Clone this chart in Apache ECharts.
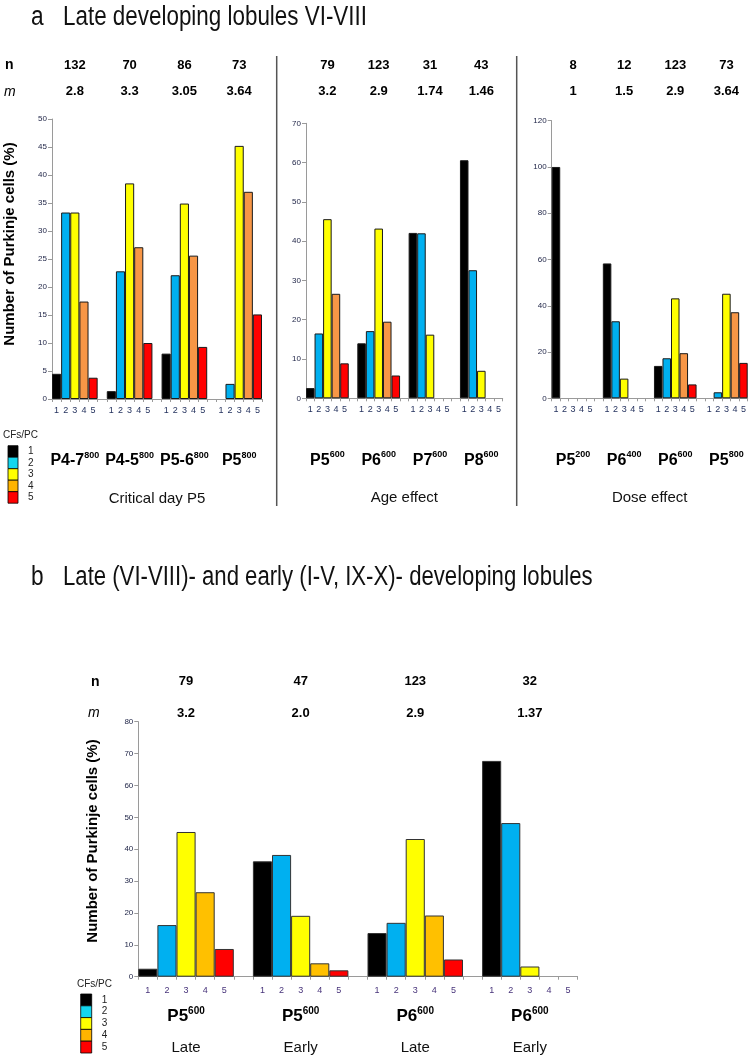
<!DOCTYPE html>
<html>
<head>
<meta charset="utf-8">
<script src="https://cdn.jsdelivr.net/npm/echarts@6/dist/echarts.min.js"></script>
<style>
  html, body { margin: 0; padding: 0; background: #fff; }
  #chart { width: 750px; height: 1058px; }
</style>
</head>
<body>
<div id="chart"></div>
<script>
// ---------------- DATA ----------------
const cfLabels = ['1', '2', '3', '4', '5'];

// Panel a – Critical day P5
const critGroups = ['P4-7', 'P4-5', 'P5-6', 'P5'];
const critDose = ['800', '800', '800', '800'];
const critN = ['132', '70', '86', '73'];
const critM = ['2.8', '3.3', '3.05', '3.64'];
const critValues = [
  [4.5, 33.3, 33.3, 17.4, 3.8],
  [1.4, 22.8, 38.5, 27.1, 10.0],
  [8.1, 22.1, 34.9, 25.6, 9.3],
  [0, 2.7, 45.2, 37.0, 15.1]
];

// Panel a – Age effect
const ageGroups = ['P5', 'P6', 'P7', 'P8'];
const ageDose = ['600', '600', '600', '600'];
const ageN = ['79', '123', '31', '43'];
const ageM = ['3.2', '2.9', '1.74', '1.46'];
const ageValues = [
  [2.6, 16.5, 45.6, 26.6, 8.9],
  [14.0, 17.1, 43.2, 19.5, 5.8],
  [42.1, 42.0, 16.2, 0, 0],
  [60.6, 32.6, 7.0, 0, 0]
];

// Panel a – Dose effect
const doseGroups = ['P5', 'P6', 'P6', 'P5'];
const doseDose = ['200', '400', '600', '800'];
const doseN = ['8', '12', '123', '73'];
const doseM = ['1', '1.5', '2.9', '3.64'];
const doseValues = [
  [100, 0, 0, 0, 0],
  [58.3, 33.3, 8.5, 0, 0],
  [14.0, 17.3, 43.2, 19.5, 6.0],
  [0, 2.6, 45.2, 37.2, 15.3]
];

// Panel b – Late vs early
const lobGroups = ['P5', 'P5', 'P6', 'P6'];
const lobDose = ['600', '600', '600', '600'];
const lobRegion = ['Late', 'Early', 'Late', 'Early'];
const lobN = ['79', '47', '123', '32'];
const lobM = ['3.2', '2.0', '2.9', '1.37'];
const lobValues = [
  [2.5, 16.2, 45.4, 26.5, 8.7],
  [36.2, 38.2, 19.1, 4.2, 2.0],
  [13.7, 16.9, 43.2, 19.2, 5.4],
  [67.7, 48.2, 3.2, 0, 0]
];

const yTicksA1 = [0, 50, 5];
const yTicksA2 = [0, 70, 10];
const yTicksA3 = [0, 120, 20];
const yTicksB = [0, 80, 10];

// ---------------- STYLE ----------------
const colorsA = ['#000000', '#00B0F0', '#FFFF00', '#F79646', '#FF0000'];
const colorsB = ['#000000', '#00B0F0', '#FFFF00', '#FFC000', '#FF0000'];
const legendColors = ['#000000', '#14D6EE', '#FFFF00', '#FFB400', '#FF0000'];
const FONT = "'Liberation Sans', Arial, sans-serif";

function slots(nGroups) {
  const cats = [];
  for (let g = 0; g < nGroups; g++) {
    cfLabels.forEach(l => cats.push(l));
    if (g < nGroups - 1) cats.push('');
  }
  return cats;
}
function barData(values, colors) {
  const out = [];
  values.forEach((grp, g) => {
    grp.forEach((v, k) => out.push({ value: v === 0 ? null : v, itemStyle: { color: colors[k] } }));
    if (g < values.length - 1) out.push({ value: null });
  });
  return out;
}

const panels = [
  { grid: { left: 52, top: 119, width: 210, height: 280 }, groups: critGroups, dose: critDose, n: critN, m: critM, values: critValues, y: yTicksA1, colors: colorsA, name: 'Critical day P5', big: false },
  { grid: { left: 306, top: 123.3, width: 196.7, height: 275 }, groups: ageGroups, dose: ageDose, n: ageN, m: ageM, values: ageValues, y: yTicksA2, colors: colorsA, name: 'Age effect', big: false },
  { grid: { left: 551.7, top: 120.7, width: 196, height: 277.6 }, groups: doseGroups, dose: doseDose, n: doseN, m: doseM, values: doseValues, y: yTicksA3, colors: colorsA, name: 'Dose effect', big: false },
  { grid: { left: 138.3, top: 721.7, width: 439.3, height: 255 }, groups: lobGroups, dose: lobDose, n: lobN, m: lobM, values: lobValues, y: yTicksB, colors: colorsB, name: '', region: lobRegion, big: true }
];

const grids = [], xAxes = [], yAxes = [], series = [];
panels.forEach((p, i) => {
  grids.push(Object.assign({ containLabel: false }, p.grid));
  const cats = slots(p.groups.length);
  const mainIdx = xAxes.length;
  // main category axis (1..5)
  xAxes.push({
    type: 'category', gridIndex: i, position: 'bottom', data: cats,
    axisLine: { onZero: false, lineStyle: { color: '#9a9a9a', width: 1 } },
    axisTick: { show: true, interval: 0, length: 3, lineStyle: { color: '#9a9a9a' } },
    axisLabel: { interval: 0, fontSize: 9, color: p.big ? '#47337a' : '#1f2d5a', margin: p.big ? 9 : 7, fontFamily: FONT },
    name: p.name, nameLocation: 'middle', nameGap: 92,
    nameTextStyle: { fontSize: 15, color: '#111', fontFamily: FONT }
  });
  // group label axis
  xAxes.push({
    type: 'category', gridIndex: i, position: 'bottom', data: cats,
    axisLine: { show: false }, axisTick: { show: false },
    axisLabel: {
      interval: 0, margin: p.big ? 30 : 52,
      formatter: (v, idx) => {
        if (idx % 6 !== 2) return '';
        const g = Math.floor(idx / 6);
        let s = '{b|' + p.groups[g] + '}{s|' + p.dose[g] + '}';
        if (p.region) s += '\n{r|' + p.region[g] + '}';
        return s;
      },
      rich: {
        b: { fontSize: p.big ? 17 : 16, fontWeight: 'bold', color: '#000', lineHeight: 20, fontFamily: FONT },
        s: { fontSize: p.big ? 10 : 9, fontWeight: 'bold', color: '#000', lineHeight: 11, verticalAlign: 'top', fontFamily: FONT },
        r: { fontSize: 15, color: '#111', lineHeight: 42, fontFamily: FONT }
      }
    }
  });
  // n / m axis at top
  const lh = p.big ? 31.6 : 26.7;
  const topLine = p.big ? 665.9 : 51.65;
  xAxes.push({
    type: 'category', gridIndex: i, position: 'top', data: cats,
    axisLine: { show: false }, axisTick: { show: false },
    axisLabel: {
      interval: 0, verticalAlign: 'top', margin: p.grid.top - topLine,
      formatter: (v, idx) => {
        if (idx % 6 !== 2) return '';
        const g = Math.floor(idx / 6);
        return '{v|' + p.n[g] + '}\n{v|' + p.m[g] + '}';
      },
      rich: { v: { fontSize: 13, fontWeight: 'bold', color: '#000', lineHeight: lh, fontFamily: FONT } }
    }
  });
  yAxes.push({
    type: 'value', gridIndex: i, min: p.y[0], max: p.y[1], interval: p.y[2],
    axisLine: { show: true, lineStyle: { color: '#9a9a9a' } },
    axisTick: { show: true, length: 4, lineStyle: { color: '#9a9a9a' } },
    axisLabel: { fontSize: 8, color: '#23284a', margin: 5, fontFamily: FONT },
    splitLine: { show: false }
  });
  series.push({
    type: 'bar', xAxisIndex: mainIdx, yAxisIndex: i,
    barCategoryGap: '0%', barGap: '0%', silent: true,
    itemStyle: { borderColor: p.big ? '#333' : '#1a1a1a', borderWidth: 1 },
    data: barData(p.values, p.colors)
  });
});

// legend / decoration graphics
function legend(x, y, boxW, boxH, titleX, titleY) {
  const els = [{ type: 'text', left: titleX, top: titleY, style: { text: 'CFs/PC', fontSize: 10, fill: '#222', fontFamily: FONT } }];
  legendColors.forEach((c, k) => {
    els.push({ type: 'rect', shape: { x: x, y: y + k * boxH, width: boxW, height: boxH }, style: { fill: c, stroke: '#000', lineWidth: 0.8 } });
    els.push({ type: 'text', x: x + boxW + 10, y: y + k * boxH + boxH / 2, style: { text: cfLabels[k], fontSize: 10, fill: '#222', fontFamily: FONT, textVerticalAlign: 'middle' } });
  });
  return els;
}

const graphics = [
  { type: 'text', x: 31, y: 18, style: { text: 'a', fontSize: 27, fill: '#111', fontFamily: FONT, textVerticalAlign: 'middle' }, scaleX: 0.84 },
  { type: 'text', x: 63, y: 18, style: { text: 'Late developing lobules VI-VIII', fontSize: 27, fill: '#111', fontFamily: FONT, textVerticalAlign: 'middle' }, scaleX: 0.83 },
  { type: 'text', x: 31, y: 578, style: { text: 'b', fontSize: 27, fill: '#111', fontFamily: FONT, textVerticalAlign: 'middle' }, scaleX: 0.84 },
  { type: 'text', x: 63, y: 578, style: { text: 'Late (VI-VIII)- and early (I-V, IX-X)- developing lobules', fontSize: 27, fill: '#111', fontFamily: FONT, textVerticalAlign: 'middle' }, scaleX: 0.82 },
  { type: 'text', x: 5, y: 65, style: { text: 'n', fontSize: 14, fontWeight: 'bold', fill: '#000', fontFamily: FONT, textVerticalAlign: 'middle' } },
  { type: 'text', x: 4, y: 92, style: { text: 'm', fontSize: 14, fontStyle: 'italic', fill: '#000', fontFamily: FONT, textVerticalAlign: 'middle' } },
  { type: 'text', x: 91, y: 682, style: { text: 'n', fontSize: 14, fontWeight: 'bold', fill: '#000', fontFamily: FONT, textVerticalAlign: 'middle' } },
  { type: 'text', x: 88, y: 713, style: { text: 'm', fontSize: 14, fontStyle: 'italic', fill: '#000', fontFamily: FONT, textVerticalAlign: 'middle' } },
  { type: 'text', x: 10, y: 244, rotation: Math.PI / 2, style: { text: 'Number of Purkinje cells (%)', fontSize: 15, fontWeight: 'bold', fill: '#000', fontFamily: FONT, textAlign: 'center', textVerticalAlign: 'middle' } },
  { type: 'text', x: 92.5, y: 841, rotation: Math.PI / 2, style: { text: 'Number of Purkinje cells (%)', fontSize: 15, fontWeight: 'bold', fill: '#000', fontFamily: FONT, textAlign: 'center', textVerticalAlign: 'middle' } },
  { type: 'line', shape: { x1: 276.7, y1: 56, x2: 276.7, y2: 506 }, style: { stroke: '#555', lineWidth: 1.5 } },
  { type: 'line', shape: { x1: 516.7, y1: 56, x2: 516.7, y2: 506 }, style: { stroke: '#555', lineWidth: 1.5 } }
].concat(legend(8, 445.7, 10, 11.5, 3, 430)).concat(legend(80.7, 994, 11, 11.8, 77, 979));

const chart = echarts.init(document.getElementById('chart'), null, { renderer: 'canvas' });
chart.setOption({
  animation: false,
  backgroundColor: '#fff',
  grid: grids,
  xAxis: xAxes,
  yAxis: yAxes,
  series: series,
  graphic: graphics
});
</script>
</body>
</html>
